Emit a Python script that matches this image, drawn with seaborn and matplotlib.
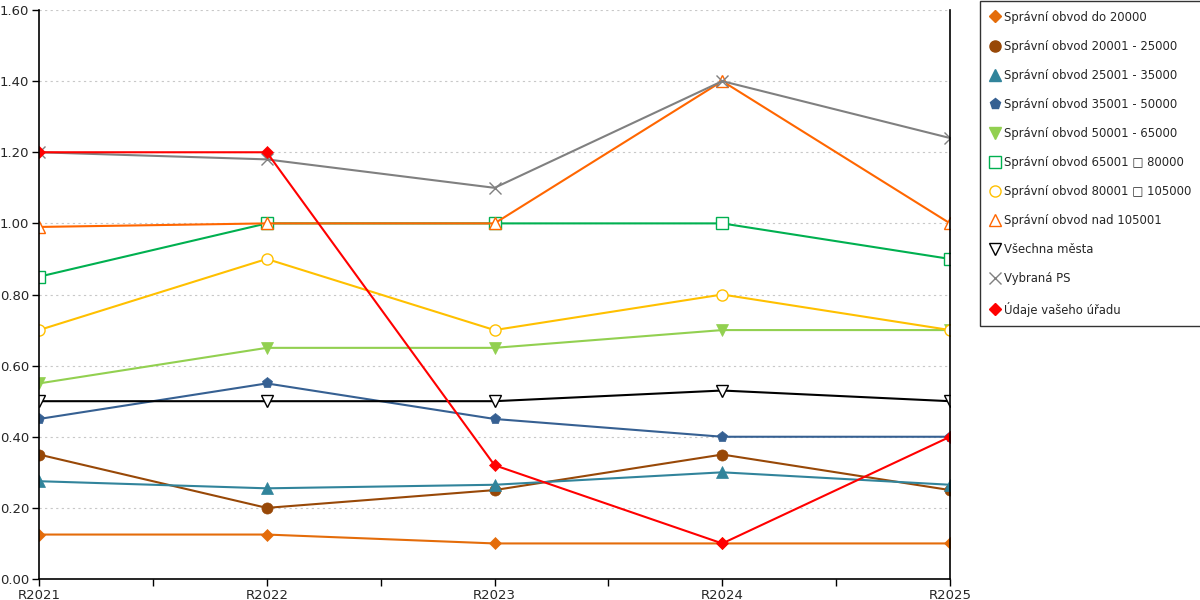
import matplotlib
matplotlib.use("Agg")
import matplotlib.pyplot as plt
from matplotlib.lines import Line2D
from matplotlib.ticker import FixedLocator, FormatStrFormatter
import seaborn as sns

# categories and values
years = ["R2021", "R2022", "R2023", "R2024", "R2025"]

labels = [
    "Správní obvod do 20000",
    "Správní obvod 20001 - 25000",
    "Správní obvod 25001 - 35000",
    "Správní obvod 35001 - 50000",
    "Správní obvod 50001 - 65000",
    "Správní obvod 65001 \u25a1 80000",
    "Správní obvod 80001 \u25a1 105000",
    "Správní obvod nad 105001",
    "Všechna města",
    "Vybraná PS",
    "Údaje vašeho úřadu",
]

do_20000 = [0.125, 0.125, 0.10, 0.10, 0.10]
obvod_20_25 = [0.35, 0.20, 0.25, 0.35, 0.25]
obvod_25_35 = [0.275, 0.255, 0.265, 0.30, 0.265]
obvod_35_50 = [0.45, 0.55, 0.45, 0.40, 0.40]
obvod_50_65 = [0.55, 0.65, 0.65, 0.70, 0.70]
obvod_65_80 = [0.85, 1.00, 1.00, 1.00, 0.90]
obvod_80_105 = [0.70, 0.90, 0.70, 0.80, 0.70]
nad_105001 = [0.99, 1.00, 1.00, 1.40, 1.00]
vsechna_mesta = [0.50, 0.50, 0.50, 0.53, 0.50]
vybrana_ps = [1.20, 1.18, 1.10, 1.40, 1.24]
vas_urad = [1.20, 1.20, 0.32, 0.10, 0.40]

series = [do_20000, obvod_20_25, obvod_25_35, obvod_35_50, obvod_50_65,
          obvod_65_80, obvod_80_105, nad_105001, vsechna_mesta, vybrana_ps, vas_urad]

colors = ["#E46C0A", "#984807", "#31849B", "#366092", "#92D050",
          "#00B050", "#FFC000", "#FF6600", "#000000", "#808080", "#FF0000"]
markers = ["D", "o", "^", "p", "v", "s", "o", "^", "v", "x", "D"]
filled = [True, True, True, True, True, False, False, False, False, True, True]
msizes = [6, 8, 8, 8, 8, 8, 8, 9, 9, 8, 6]

sns.set_style("white")
plt.rcParams["font.family"] = ["DejaVu Sans"]

fig = plt.figure(figsize=(12, 6), dpi=100)
ax = fig.add_axes([0.0325, 0.035, 0.7592, 0.9483])

handles = []
for vals, lab, col, mk, fl, ms in zip(series, labels, colors, markers, filled, msizes):
    face = col if fl else "white"
    sns.lineplot(x=years, y=vals, ax=ax, color=col, linewidth=1.5,
                 marker=mk, markersize=ms, markerfacecolor=face,
                 markeredgecolor=col, markeredgewidth=1.0 if not fl or mk == "x" else 0.5,
                 sort=False, legend=False)
    handles.append(Line2D([], [], linestyle="none", marker=mk, markersize=ms,
                          markerfacecolor=face, markeredgecolor=col,
                          markeredgewidth=1.0, label=lab))

ax.set_xlim(0, 4)
ax.set_ylim(0, 1.6)
ax.set_yticks([0, 0.2, 0.4, 0.6, 0.8, 1.0, 1.2, 1.4, 1.6])
ax.yaxis.set_major_formatter(FormatStrFormatter("%.2f"))
ax.set_xticks(range(len(years)))
ax.set_xticklabels(years)
ax.xaxis.set_minor_locator(FixedLocator([0.5, 1.5, 2.5, 3.5]))
ax.set_xlabel("")
ax.set_ylabel("")

ax.grid(axis="y", linestyle=(0, (2, 3)), color="#c8c8c8", linewidth=0.8)
ax.set_axisbelow(True)

for side in ["left", "bottom", "right"]:
    ax.spines[side].set_visible(True)
    ax.spines[side].set_color("black")
    ax.spines[side].set_linewidth(1.2)
ax.spines["top"].set_visible(False)

ax.tick_params(axis="both", which="both", direction="out", length=5, width=1,
               color="black", labelsize=9.5, pad=2, bottom=True, left=True)
ax.tick_params(axis="x", which="minor", length=5)

leg = fig.legend(handles=handles, loc="upper left", bbox_to_anchor=(0.8167, 0.999),
                 frameon=True, fancybox=False, edgecolor="black", fontsize=8.4,
                 labelspacing=1.38, handlelength=0.8, handletextpad=0.4,
                 borderpad=0.85, borderaxespad=0)
leg.get_frame().set_linewidth(1.0)

fig.savefig("out.png", dpi=100)
